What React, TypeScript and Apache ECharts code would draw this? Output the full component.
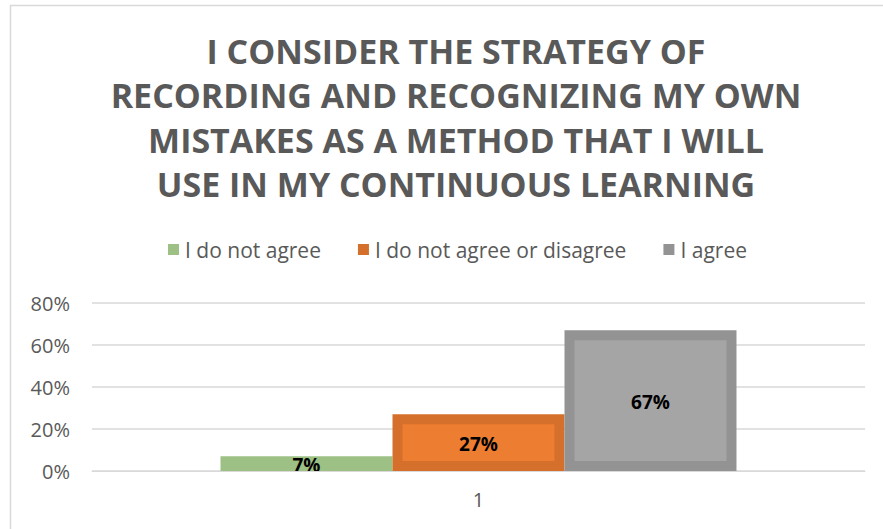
import React, { useEffect, useRef } from "react";
import * as echarts from "echarts";

const titleLines = [
  "I CONSIDER THE STRATEGY OF",
  "RECORDING AND RECOGNIZING MY OWN",
  "MISTAKES AS A METHOD THAT I WILL",
  "USE IN MY CONTINUOUS LEARNING",
];
const categories = ["1"];
const seriesNames = ["I do not agree", "I do not agree or disagree", "I agree"];
const seriesValues = [7, 27, 67];
const fillColors = ["#9DC184", "#ED7D31", "#A5A5A5"];
const edgeColors = ["#9DC184", "#D4702B", "#939393"];
const edgeWidths = [0, 10, 10];
const yTicks = { min: 0, max: 80, interval: 20 };

const FONT = "'Open Sans', sans-serif";
const BAR_RATIO = 0.2225;

export default function App() {
  const ref = useRef<HTMLDivElement>(null);
  useEffect(() => {
    if (!ref.current) return;
    const chart = echarts.init(ref.current, null, { renderer: "svg" });
    const series = seriesNames.map((name, i) => ({
      type: "custom",
      name,
      clip: true,
      itemStyle: { color: edgeColors[i] },
      encode: { x: 0, y: 1 },
      data: [[0, seriesValues[i]]],
      renderItem: (params: any, api: any) => {
        const v = api.value(1);
        const base = api.coord([api.value(0), 0]);
        const top = api.coord([api.value(0), v]);
        const band = api.size([1, 0])[0];
        const w = band * BAR_RATIO;
        const cx = base[0] + (params.seriesIndex - 1) * w;
        const x = cx - w / 2;
        const h = base[1] - top[1];
        const b = edgeWidths[params.seriesIndex];
        const children: any[] = [
          { type: "rect", shape: { x, y: top[1], width: w, height: h }, style: { fill: edgeColors[params.seriesIndex] } },
        ];
        if (b > 0) {
          children.push({
            type: "rect",
            shape: { x: x + b, y: top[1] + b, width: w - 2 * b, height: Math.max(0, h - 2 * b) },
            style: { fill: fillColors[params.seriesIndex] },
          });
        }
        children.push({
          type: "text",
          style: {
            text: v + "%",
            x: cx,
            y: (top[1] + base[1]) / 2 + 1,
            align: "center",
            verticalAlign: "middle",
            fill: "#000000",
            font: "bold 19px " + FONT,
          },
        });
        return { type: "group", children };
      },
    }));
    chart.setOption({
      animation: false,
      backgroundColor: "#ffffff",
      title: {
        text: titleLines.join("\n"),
        left: 451,
        textAlign: "center",
        top: 24,
        textStyle: { fontFamily: FONT, fontSize: 34, fontWeight: "bold", color: "#595959", lineHeight: 44.3 },
      },
      legend: {
        data: seriesNames,
        left: 163,
        top: 234,
        icon: "rect",
        itemWidth: 11,
        itemHeight: 11,
        itemGap: 37,
        textStyle: { fontFamily: FONT, fontSize: 21, color: "#595959", padding: [0, 0, 0, 1] },
      },
      grid: { left: 92, right: 18, top: 303, bottom: 58 },
      xAxis: {
        type: "category",
        data: categories,
        axisLine: { lineStyle: { color: "#D9D9D9", width: 1 } },
        axisTick: { show: false },
        axisLabel: { fontFamily: FONT, fontSize: 20, color: "#595959", margin: 18 },
      },
      yAxis: {
        type: "value",
        min: yTicks.min,
        max: yTicks.max,
        interval: yTicks.interval,
        axisLine: { show: false },
        axisTick: { show: false },
        splitLine: { lineStyle: { color: "#D9D9D9", width: 1.5 } },
        axisLabel: { fontFamily: FONT, fontSize: 20, color: "#595959", margin: 22, formatter: "{value}%" },
      },
      graphic: [
        {
          type: "rect",
          shape: { x: 10.5, y: 5.5, width: 900, height: 600 },
          style: { fill: "none", stroke: "#D9D9D9", lineWidth: 1.5 },
          silent: true,
          z: 100,
        },
      ],
      series,
    });
    return () => chart.dispose();
  }, []);
  return <div ref={ref} style={{ position: "fixed", left: 0, top: 0, width: 883, height: 529 }} />;
}
